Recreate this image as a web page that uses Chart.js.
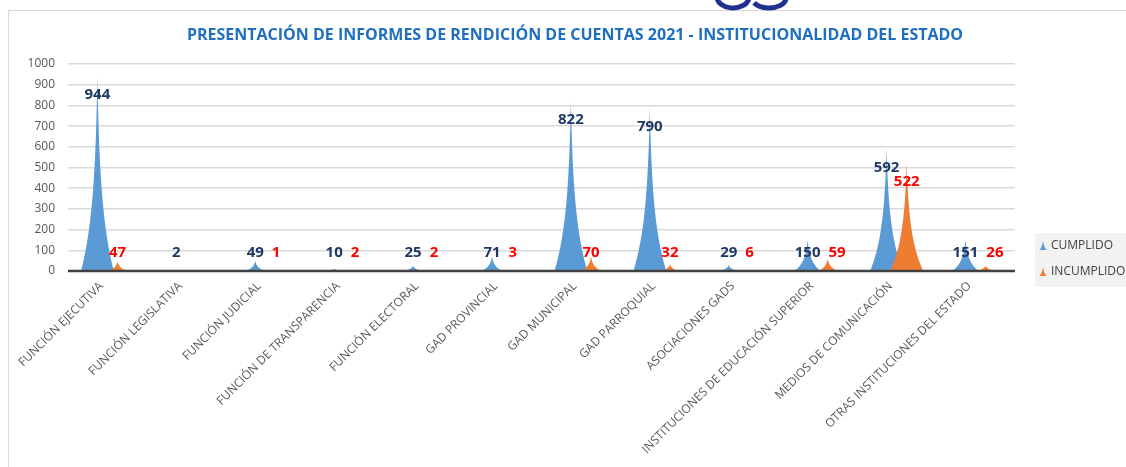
<!DOCTYPE html>
<html>
<head>
<meta charset="utf-8">
<script src="https://cdn.jsdelivr.net/npm/chart.js@4.4.1/dist/chart.umd.min.js"></script>
<style>
  html, body { margin: 0; padding: 0; background: #fff; }
  #wrap { position: relative; width: 1126px; height: 467px; overflow: hidden; }
  #frame { position: absolute; left: 8px; top: 10px; width: 1200px; height: 600px; border: 1px solid #D9D9D9; box-sizing: border-box; }
  canvas { position: absolute; left: 0; top: 0; }
</style>
</head>
<body>
<div id="wrap">
  <div id="frame"></div>
  <canvas id="chart" width="1126" height="467"></canvas>
</div>
<script>
// Datos del grafico
const titleText = 'PRESENTACIÓN DE INFORMES DE RENDICIÓN DE CUENTAS 2021 - INSTITUCIONALIDAD DEL ESTADO';
const categories = [
    'FUNCIÓN EJECUTIVA',
    'FUNCIÓN LEGISLATIVA',
    'FUNCIÓN JUDICIAL',
    'FUNCIÓN DE TRANSPARENCIA',
    'FUNCIÓN ELECTORAL',
    'GAD PROVINCIAL',
    'GAD MUNICIPAL',
    'GAD PARROQUIAL',
    'ASOCIACIONES GADS',
    'INSTITUCIONES DE EDUCACIÓN SUPERIOR',
    'MEDIOS DE COMUNICACIÓN',
    'OTRAS INSTITUCIONES DEL ESTADO'
];
const seriesNames = ['CUMPLIDO', 'INCUMPLIDO'];
const cumplido = [944, 2, 49, 10, 25, 71, 822, 790, 29, 150, 592, 151];
const incumplido = [47, null, 1, 2, 2, 3, 70, 32, 6, 59, 522, 26];
const yMin = 0;
const yMax = 1000;
const yStep = 100;

const colors = {
    cumplido: '#5B9BD5',
    incumplido: '#ED7D31',
    labelCumplido: '#1F3864',
    labelIncumplido: '#FF0000',
    title: '#1F6FC0',
    text: '#595959',
    grid: '#D9D9D9',
    axis: '#404040'
};
const fontFamily = '"Open Sans", "Liberation Sans", sans-serif';

// Forma de "pico" (lados concavos)
function spikePath(ctx, x, top, base, halfW) {
    const h = base - top;
    const k = 3.1, n = 30, e = Math.exp(-k);
    const widthAt = t => halfW * (Math.exp(-k * t) - e) / (1 - e) + 1.2 * (1 - t);
    ctx.beginPath();
    ctx.moveTo(x - widthAt(0), base);
    for (let i = 1; i <= n; i++) {
        const t = i / n;
        ctx.lineTo(x - widthAt(t), base - t * h);
    }
    for (let i = n; i >= 0; i--) {
        const t = i / n;
        ctx.lineTo(x + widthAt(t), base - t * h);
    }
    ctx.closePath();
}

const spikePlugin = {
    id: 'spikes',
    afterDatasetsDraw(chart) {
        const ctx = chart.ctx;
        const area = chart.chartArea;
        ctx.save();
        chart.data.datasets.forEach((ds, di) => {
            const meta = chart.getDatasetMeta(di);
            meta.data.forEach((bar, i) => {
                if (ds.data[i] == null) return;
                const p = bar.getProps(['x', 'y', 'base'], true);
                const h = p.base - p.y;
                if (h < 1) return;
                const halfW = Math.min(15, 5 + h * 0.2);
                ctx.fillStyle = ds.spikeColor;
                spikePath(ctx, p.x, p.y, p.base, halfW);
                ctx.fill();
            });
        });
        // linea del eje X por encima de los picos
        ctx.strokeStyle = colors.axis;
        ctx.lineWidth = 2.5;
        ctx.beginPath();
        ctx.moveTo(area.left, area.bottom);
        ctx.lineTo(area.right, area.bottom);
        ctx.stroke();

        // etiquetas de valores
        ctx.font = 'bold 15px ' + fontFamily;
        ctx.textAlign = 'center';
        ctx.textBaseline = 'middle';
        const placed = [];
        chart.data.datasets.forEach((ds, di) => {
            const meta = chart.getDatasetMeta(di);
            meta.data.forEach((bar, i) => {
                const v = ds.data[i];
                if (v == null) return;
                const p = bar.getProps(['x', 'y', 'base'], true);
                const text = String(v);
                const w = ctx.measureText(text).width;
                const ly = Math.min(p.y + 19, p.base - 18);
                let lx = p.x;
                // evitar que se monte sobre la etiqueta vecina
                const prev = placed[i];
                if (prev && Math.abs(prev.y - ly) < 14) {
                    const minX = prev.x + prev.w / 2 + 8 + w / 2;
                    if (lx < minX) lx = minX;
                }
                placed[i] = { x: lx, y: ly, w: w };
                ctx.fillStyle = ds.labelColor;
                ctx.fillText(text, lx, ly);
            });
        });
        ctx.restore();
    }
};

const decorPlugin = {
    id: 'decor',
    beforeDraw(chart) {
        const ctx = chart.ctx;
        ctx.save();
        // logo recortado arriba
        ctx.strokeStyle = '#22318F';
        ctx.lineWidth = 5;
        ctx.beginPath();
        ctx.ellipse(733, -3, 16, 11, 0, 0.15, Math.PI - 0.1);
        ctx.stroke();
        ctx.beginPath();
        ctx.ellipse(769, -2, 17, 10, 0, 0.05, Math.PI - 0.5);
        ctx.stroke();
        // titulo
        ctx.fillStyle = colors.title;
        ctx.font = 'bold 16px ' + fontFamily;
        ctx.textAlign = 'center';
        ctx.textBaseline = 'middle';
        ctx.fillText(titleText, 575, 35);
        ctx.restore();
    },
    afterDraw(chart) {
        const ctx = chart.ctx;
        ctx.save();
        ctx.fillStyle = '#F2F2F2';
        ctx.fillRect(1035, 233, 91, 54);
        ctx.font = '12px ' + fontFamily;
        ctx.textAlign = 'left';
        ctx.textBaseline = 'middle';
        chart.data.datasets.forEach((ds, di) => {
            const cy = 246 + di * 26;
            ctx.fillStyle = ds.spikeColor;
            spikePath(ctx, 1043, cy - 5, cy + 4, 2.5);
            ctx.fill();
            ctx.fillStyle = '#404040';
            ctx.fillText(ds.label, 1051, cy);
        });
        ctx.restore();
    }
};

const ctx = document.getElementById('chart').getContext('2d');
const chart = new Chart(ctx, {
    type: 'bar',
    data: {
        labels: categories,
        datasets: [{
            label: seriesNames[0],
            data: cumplido,
            backgroundColor: 'rgba(0,0,0,0)',
            spikeColor: colors.cumplido,
            labelColor: colors.labelCumplido
        }, {
            label: seriesNames[1],
            data: incumplido,
            backgroundColor: 'rgba(0,0,0,0)',
            spikeColor: colors.incumplido,
            labelColor: colors.labelIncumplido
        }]
    },
    options: {
        responsive: false,
        animation: false,
        devicePixelRatio: 1,
        categoryPercentage: 0.51,
        barPercentage: 1,
        layout: {
            padding: { top: 64, right: 111, bottom: 0, left: 0 }
        },
        plugins: {
            legend: { display: false },
            title: { display: false },
            tooltip: { enabled: false }
        },
        scales: {
            x: {
                grid: { display: false, drawTicks: false },
                border: { display: false },
                ticks: {
                    color: colors.text,
                    font: { family: fontFamily, size: 12 },
                    maxRotation: 45,
                    minRotation: 45,
                    padding: 8,
                    labelOffset: -6,
                    autoSkip: false
                },
                afterFit(scale) { scale.height = 196; }
            },
            y: {
                min: yMin,
                max: yMax,
                grid: { color: colors.grid, lineWidth: 1.5, drawTicks: false },
                border: { display: false },
                ticks: {
                    stepSize: yStep,
                    color: colors.text,
                    font: { family: fontFamily, size: 12 },
                    padding: 13,
                    callback: value => String(value)
                },
                afterFit(scale) { scale.width = 68; }
            }
        }
    },
    plugins: [decorPlugin, spikePlugin]
});
</script>
</body>
</html>
